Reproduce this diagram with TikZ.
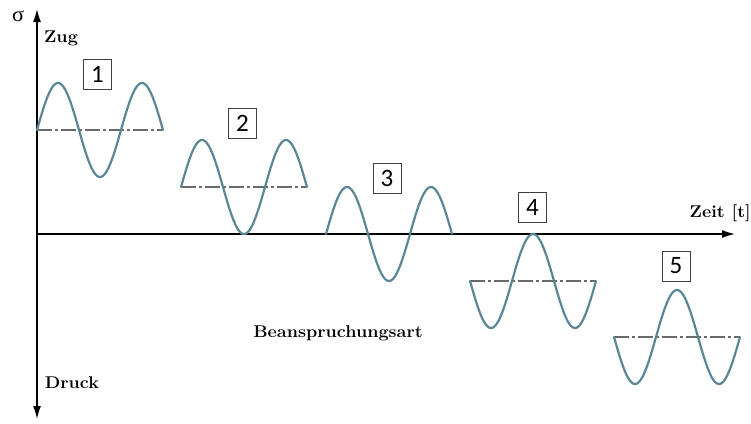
\documentclass[tikz,border=0pt]{standalone}
\usepackage{fontspec}
\usetikzlibrary{arrows.meta}
\newfontfamily\numfont{Carlito}
\newfontfamily\greekfont{Liberation Serif}
\definecolor{ink}{HTML}{000000}
\definecolor{wavec}{HTML}{5A8797}
\definecolor{meanc}{HTML}{6A6A6A}
\tikzset{
  axis/.style={line width=1.3pt, draw=ink},
  wave/.style={line width=2.2pt, draw=wavec, line cap=round},
  mean/.style={line width=1.1pt, draw=meanc, dash pattern=on 15pt off 3pt on 3pt off 3pt},
  numbox/.style={draw=ink!75, line width=0.8pt, fill=white, minimum width=28pt, minimum height=30pt, inner sep=0pt, font=\numfont\fontsize{25}{25}\selectfont},
  lbl/.style={font=\bfseries\fontsize{17}{19}\selectfont, text=ink, inner sep=0pt}
}
\newcommand{\wide}[1]{\scalebox{1.06}[1]{#1}}

\begin{document}
\begin{tikzpicture}[x=1pt, y=-1pt]
  \useasboundingbox (0,0) rectangle (751,423);
  % axes
  \coordinate (top) at (37,9);
  \coordinate (bottom) at (37,419);
  \coordinate (origin) at (37,234);
  \coordinate (tend) at (735,234);
  \draw[axis, {Latex[length=13pt,width=8pt]}-{Latex[length=13pt,width=8pt]}] (bottom) -- (top);
  \draw[axis, -{Latex[length=13pt,width=8pt]}] (origin) -- (tend);

  \node[inner sep=0pt, font=\greekfont\fontsize{21}{21}\selectfont] (sigma) at (18,16) {\wide{σ}};
  \node[lbl] (zug) at (61,38) {\wide{Zug}};
  \node[lbl] (druck) at (72,383) {\wide{Druck}};
  \node[lbl, anchor=east] (zeit) at (751,213) {\wide{Zeit [t]}};
  \node[lbl] (art) at (338,333) {\wide{Beanspruchungsart}};

  % mean lines
  \coordinate (m1a) at (37,130);  \coordinate (m1b) at (163,130);
  \coordinate (m2a) at (181,187); \coordinate (m2b) at (307,187);
  \coordinate (m4a) at (470,281); \coordinate (m4b) at (596,281);
  \coordinate (m5a) at (614,337); \coordinate (m5b) at (740,337);
  \draw[mean] (m1a) -- (m1b);
  \draw[mean] (m2a) -- (m2b);
  \draw[mean] (m4a) -- (m4b);
  \draw[mean] (m5a) -- (m5b);

  % load cycles, 1.5 periods each
  \draw[wave] plot[domain=0:1.5, samples=90, smooth] ({37+84*\x}, {130-47*sin(360*\x)});
  \draw[wave] plot[domain=0:1.5, samples=90, smooth] ({181+84*\x}, {187-47*sin(360*\x)});
  \draw[wave] plot[domain=0:1.5, samples=90, smooth] ({326+84*\x}, {234-47*sin(360*\x)});
  \draw[wave] plot[domain=0:1.5, samples=90, smooth] ({470+84*\x}, {281+47*sin(360*\x)});
  \draw[wave] plot[domain=0:1.5, samples=90, smooth] ({614+84*\x}, {337+47*sin(360*\x)});

  \node[numbox] (n1) at (97.5,74) {1};
  \node[numbox] (n2) at (242.5,123.5) {2};
  \node[numbox] (n3) at (387,178) {3};
  \node[numbox] (n4) at (532.5,207.5) {4};
  \node[numbox] (n5) at (676,266) {5};
\end{tikzpicture}
\end{document}
